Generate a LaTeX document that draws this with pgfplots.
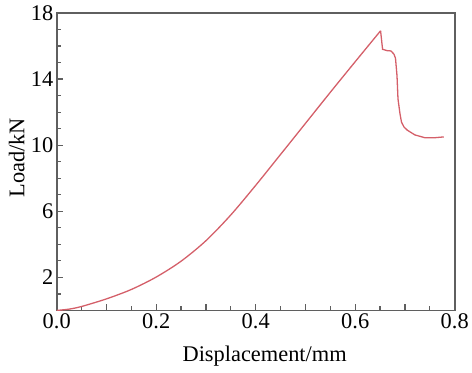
\documentclass[border=0pt]{standalone}
\usepackage{pgfplots}
\pgfplotsset{compat=1.18}
\usepackage{fontspec}
\setmainfont{Liberation Serif}
\definecolor{curve}{RGB}{212,95,105}
\definecolor{axgray}{RGB}{95,95,95}
\begin{document}
\begin{tikzpicture}
\begin{axis}[
  name=ax,
  width=400bp, height=299bp, scale only axis,
  xmin=0, xmax=0.8, ymin=0, ymax=18,
  font=\fontsize{22.5bp}{27bp}\selectfont,
  /pgf/number format/assume math mode=true,
  axis line style={axgray, line width=1.6bp},
  tick style={axgray, line width=1.2bp},
  tick align=inside,
  xtick pos=bottom, ytick pos=left,
  major tick length=6bp, minor tick length=4bp,
  xtick={0,0.1,0.2,0.3,0.4,0.5,0.6,0.7,0.8},
  xticklabels={0.0,,0.2,,0.4,,0.6,,0.8},
  minor xtick={0.05,0.15,0.25,0.35,0.45,0.55,0.65,0.75},
  ytick={2,6,10,14,18},
  minor ytick={1,3,4,5,7,8,9,11,12,13,15,16,17},
  xlabel={Displacement/mm},
  ylabel={Load/kN},
  xlabel style={at={(axis description cs:0.5,0)}, anchor=base, inner sep=0pt, yshift=-51bp, xshift=9bp},
  ylabel style={at={(axis description cs:0,0.5)}, anchor=south, inner sep=0pt, yshift=32bp, xshift=4bp},
]
\addplot[curve, line width=1.3bp, smooth] coordinates {
(0.00,0.00) (0.025,0.08) (0.05,0.24) (0.10,0.70) (0.15,1.27)
(0.20,2.02) (0.25,2.98) (0.30,4.22) (0.35,5.78)
(0.40,7.57) (0.45,9.44) (0.50,11.32) (0.55,13.20) (0.60,15.05)
(0.651,16.92)
};
\addplot[curve, line width=1.3bp] coordinates {
(0.651,16.92) (0.655,15.80) (0.664,15.72) (0.672,15.70) (0.678,15.50) (0.681,15.25)
(0.684,14.2) (0.686,12.80) (0.690,11.9) (0.693,11.40) (0.698,11.1) (0.705,10.90) (0.72,10.62)
(0.74,10.45) (0.76,10.45) (0.778,10.50)
};
\end{axis}
\path ([shift={(-57bp,-62bp)}]ax.south west) rectangle ([shift={(15bp,13bp)}]ax.north east);
\end{tikzpicture}
\end{document}
